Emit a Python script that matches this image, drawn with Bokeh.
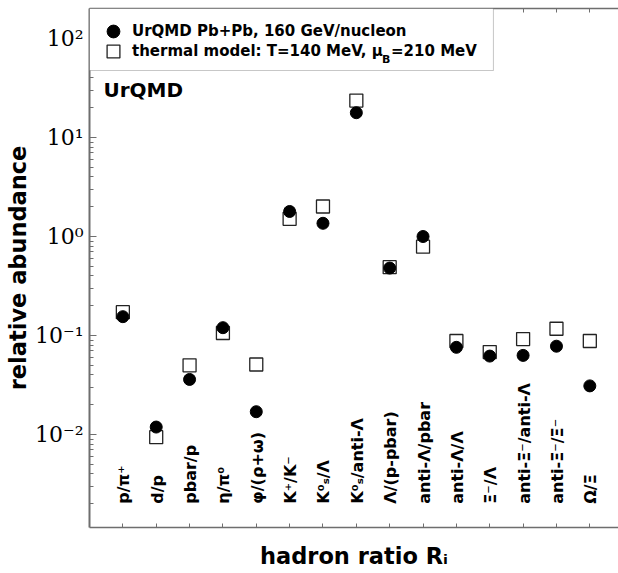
import math
from bokeh.plotting import figure
from bokeh.models import (Range1d, LinearAxis, FixedTicker, CustomJSTickFormatter,
                          Legend, LegendItem, Label, ColumnDataSource, BoxAnnotation)
from bokeh.core.properties import value
from bokeh.embed import file_html
from bokeh.resources import INLINE

# ---- data ----
ratio_labels = ["p/π⁺", "d/p", "pbar/p", "η/π⁰", "φ/(ρ+ω)", "K⁺/K⁻", "K⁰ₛ/Λ",
                "K⁰ₛ/anti-Λ", "Λ/(p-pbar)", "anti-Λ/pbar", "anti-Λ/Λ", "Ξ⁻/Λ",
                "anti-Ξ⁻/anti-Λ", "anti-Ξ⁻/Ξ⁻", "Ω/Ξ"]
urqmd = [0.155, 0.0119, 0.036, 0.12, 0.017, 1.79, 1.36, 17.8, 0.48, 1.0,
         0.076, 0.062, 0.063, 0.078, 0.031]
thermal = [0.172, 0.0094, 0.050, 0.106, 0.051, 1.51, 2.01, 23.6, 0.49, 0.79,
           0.088, 0.068, 0.092, 0.117, 0.088]
y_major_ticks = [1e-2, 1e-1, 1e0, 1e1, 1e2]
legend_labels = ["UrQMD Pb+Pb, 160 GeV/nucleon", "thermal model: T=140 MeV, μ \u2009=210 MeV"]

xs = [i + 1 for i in range(len(ratio_labels))]
src = ColumnDataSource(dict(x=xs, urqmd=urqmd, thermal=thermal, lab=ratio_labels,
                            laby=[0.002] * len(xs)))

FRAME_H = 519
p = figure(width=618, height=573, y_axis_type="log",
           x_range=Range1d(0, 15.86), y_range=Range1d(10 ** -2.939, 10 ** 2.303),
           output_backend="svg", toolbar_location=None,
           min_border_left=89, min_border_right=0, min_border_top=8, min_border_bottom=46)
p.outline_line_color = None
p.grid.visible = False
p.background_fill_color = "white"
p.border_fill_color = "white"

AX = "#6e6e6e"
empty = CustomJSTickFormatter(code="return ''")

# left (log) axis
ya = p.yaxis[0]
ya.ticker = FixedTicker(ticks=y_major_ticks,
                        minor_ticks=[m * 10 ** e for e in range(-3, 3) for m in range(2, 10)])
ya.formatter = CustomJSTickFormatter(code="""
const sup = {"-":"\u207b","0":"\u2070","1":"\u00b9","2":"\u00b2","3":"\u00b3","4":"\u2074",
             "5":"\u2075","6":"\u2076","7":"\u2077","8":"\u2078","9":"\u2079"};
const e = Math.round(Math.log10(tick));
return "10" + String(e).split("").map(c => sup[c]).join("");
""")
ya.major_tick_in = 7
ya.major_tick_out = 0
ya.minor_tick_in = 4
ya.minor_tick_out = 0
ya.axis_line_color = AX
ya.axis_line_width = 2
ya.major_tick_line_color = AX
ya.minor_tick_line_color = AX
ya.major_label_text_font = "DejaVu Serif"
ya.major_label_text_font_size = "22px"
ya.major_label_text_color = "black"
ya.major_label_standoff = 6
ya.axis_label = "relative abundance"
ya.axis_label_text_font = "DejaVu Sans"
ya.axis_label_text_font_style = "bold"
ya.axis_label_text_font_size = "22.5px"
ya.axis_label_text_color = "black"
ya.axis_label_standoff = 1

# bottom axis
xa = p.xaxis[0]
xa.ticker = FixedTicker(ticks=xs, minor_ticks=[])
xa.formatter = empty
xa.major_label_text_font_size = "0px"
xa.major_tick_in = 4
xa.major_tick_out = 0
xa.minor_tick_in = 0
xa.minor_tick_out = 0
xa.axis_line_color = AX
xa.axis_line_width = 1.5
xa.major_tick_line_color = AX
xa.major_label_standoff = 0
xa.axis_label = "hadron ratio Rᵢ"
xa.axis_label_text_font = "DejaVu Sans"
xa.axis_label_text_font_style = "bold"
xa.axis_label_text_font_size = "22.5px"
xa.axis_label_text_color = "black"
xa.axis_label_standoff = 15

# top axis (ticks only)
ta = LinearAxis(ticker=FixedTicker(ticks=xs, minor_ticks=[]), formatter=empty)
ta.major_label_text_font_size = "0px"
ta.major_tick_in = 4
ta.major_tick_out = 0
ta.minor_tick_in = 0
ta.minor_tick_out = 0
ta.axis_line_color = AX
ta.axis_line_width = 1.5
ta.major_tick_line_color = AX
ta.major_label_standoff = 0
p.add_layout(ta, "above")

# data marks
sq = p.scatter("x", "thermal", source=src, marker="square", size=13,
               fill_color="white", line_color="#222222", line_width=1.3)
ci = p.scatter("x", "urqmd", source=src, marker="circle", size=12,
               fill_color="black", line_color="black")

# rotated category labels
p.text(x="x", y="laby", text="lab", source=src, angle=math.pi / 2,
       text_align="left", text_baseline="alphabetic", x_offset=1,
       text_font=value("DejaVu Sans"), text_font_style="bold",
       text_font_size="16px", text_color="black")

p.add_layout(Label(x=0.42, y=30, text="UrQMD", text_font="DejaVu Sans",
                   text_font_style="bold", text_font_size="20px",
                   text_baseline="alphabetic", text_color="black"))

# legend frame (frame-left to x≈493 px, frame-top to y≈70 px)
p.add_layout(BoxAnnotation(left=0, right=(493 - 89) / 33.36, top=10 ** 2.303,
                           bottom=10 ** ((236 - 70) / 99), fill_color="white",
                           fill_alpha=1.0, line_color="#444444", line_width=1))

leg_kw = dict(margin=0, padding=0, spacing=0, glyph_height=32, glyph_width=38,
              label_height=20, label_standoff=0, label_text_font="DejaVu Sans",
              label_text_font_style="bold", label_text_font_size="15px",
              label_text_color="black", border_line_color=None,
              background_fill_alpha=0.0)
leg1 = Legend(items=[LegendItem(label=legend_labels[0], renderers=[ci])],
              location=(5, FRAME_H - 39), **leg_kw)
leg2 = Legend(items=[LegendItem(label=legend_labels[1], renderers=[sq])],
              location=(5, FRAME_H - 59), **leg_kw)
p.add_layout(leg1)
p.add_layout(leg2)

p.add_layout(Label(x=8.77, y=61.4, text="B", text_font="DejaVu Sans",
                   text_font_style="bold", text_font_size="11px",
                   text_baseline="alphabetic", text_color="black"))

open("out.html", "w").write(file_html(p, INLINE))
